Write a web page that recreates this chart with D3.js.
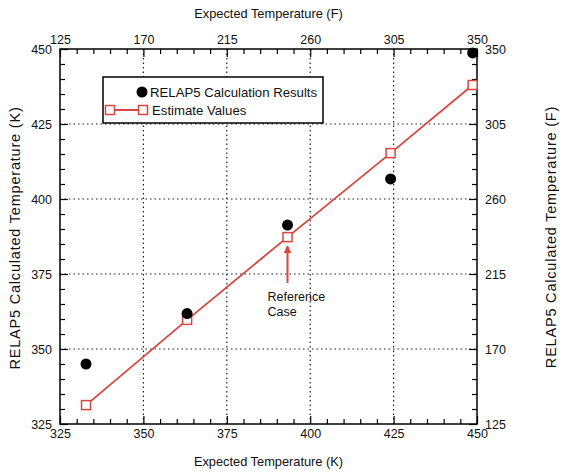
<!DOCTYPE html>
<html>
<head>
<meta charset="utf-8">
<script src="https://cdn.jsdelivr.net/npm/d3@7"></script>
<style>
  html, body { margin: 0; padding: 0; background: #fff; }
  svg { display: block; font-family: "Liberation Sans", Arial, sans-serif; }
  .axis path { display: none; }
  .axis line { stroke: #000; stroke-width: 1.2; }
  .axis text { font-size: 12.5px; fill: #111; }
</style>
</head>
<body>
<svg id="chart" width="564" height="472"></svg>
<script>
// Expected temperature (K) for each case
const expectedK = [332.8, 363.1, 393.2, 424.1, 448.7];
// RELAP5 calculated temperatures (K)
const relap5K = [345.0, 361.8, 391.3, 406.7, 448.7];
// Estimated temperatures (K)
const estimateK = [331.3, 359.7, 387.3, 415.3, 438.0];

// Axis ticks
const kTicks = [325, 350, 375, 400, 425, 450];
const fTicks = [125, 170, 215, 260, 305, 350];
const kMinor = d3.range(325, 451, 5).filter(v => v % 25 !== 0);
const fMinor = d3.range(125, 351, 9).filter(v => (v - 125) % 45 !== 0);

const referenceIndex = 2;

const svg = d3.select("#chart");
const plotL = 60, plotR = 477, plotT = 49, plotB = 424;

const x = d3.scaleLinear().domain([325, 450]).range([plotL, plotR]);
const y = d3.scaleLinear().domain([325, 450]).range([plotB, plotT]);
const xF = d3.scaleLinear().domain([125, 350]).range([plotL, plotR]);
const yF = d3.scaleLinear().domain([125, 350]).range([plotB, plotT]);

const red = "#d9463f";

// Dotted grid at inner major ticks
const grid = svg.append("g").attr("stroke", "#222").attr("stroke-width", 1.2)
  .attr("stroke-dasharray", "1.5,3");
kTicks.slice(1, -1).forEach(v => {
  grid.append("line").attr("x1", x(v)).attr("x2", x(v)).attr("y1", plotT).attr("y2", plotB);
  grid.append("line").attr("x1", plotL).attr("x2", plotR).attr("y1", y(v)).attr("y2", y(v));
});

// Axes: major ticks with labels, minor ticks without, all pointing inward
function addAxis(axisFn, scale, major, minor, transform, pad) {
  svg.append("g").attr("class", "axis").attr("transform", transform)
    .call(axisFn(scale).tickValues(major).tickSize(-8).tickPadding(pad).tickFormat(d3.format("d")));
  svg.append("g").attr("class", "axis").attr("transform", transform)
    .call(axisFn(scale).tickValues(minor).tickSize(-5).tickFormat(""));
}
addAxis(d3.axisBottom, x, kTicks, kMinor, `translate(0,${plotB})`, 5);
addAxis(d3.axisLeft, y, kTicks, kMinor, `translate(${plotL},0)`, 8);
addAxis(d3.axisTop, xF, fTicks, fMinor, `translate(0,${plotT})`, 5);
addAxis(d3.axisRight, yF, fTicks, fMinor, `translate(${plotR},0)`, 8);

// Frame
svg.append("rect").attr("x", plotL).attr("y", plotT)
  .attr("width", plotR - plotL).attr("height", plotB - plotT)
  .attr("fill", "none").attr("stroke", "#000").attr("stroke-width", 1.5);

// Axis titles
const title = (t, tx, ty, rot, fs, ls) => svg.append("text")
  .attr("transform", `translate(${tx},${ty}) rotate(${rot})`)
  .attr("text-anchor", "middle").attr("font-size", fs).attr("letter-spacing", ls)
  .attr("fill", "#111").text(t);
title("Expected Temperature (F)", (plotL + plotR) / 2, 18, 0, 12.8, 0);
title("Expected Temperature (K)", (plotL + plotR) / 2, 466, 0, 12.8, 0);
title("RELAP5 Calculated Temperature (K)", 20, 238, -90, 14.5, 0.8);
title("RELAP5 Calculated Temperature (F)", 556, 237, -90, 14.5, 0.8);

// Estimate line and markers
const pts = expectedK.map((k, i) => [x(k), y(estimateK[i])]);
svg.append("path").attr("d", d3.line()(pts))
  .attr("fill", "none").attr("stroke", red).attr("stroke-width", 1.8);
svg.selectAll(".sq").data(expectedK).join("rect")
  .attr("x", (d, i) => x(d) - 4.5).attr("y", (d, i) => y(estimateK[i]) - 4.5)
  .attr("width", 9).attr("height", 9)
  .attr("fill", "#fff").attr("stroke", red).attr("stroke-width", 1.5);

// RELAP5 results
svg.selectAll(".dot").data(expectedK).join("circle")
  .attr("cx", d => x(d)).attr("cy", (d, i) => y(relap5K[i])).attr("r", 5.5)
  .attr("fill", "#000");

// Reference case annotation
const rx = x(expectedK[referenceIndex]);
const ry = y(estimateK[referenceIndex]);
svg.append("defs").append("marker").attr("id", "head")
  .attr("viewBox", "0 0 10 10").attr("refX", 9).attr("refY", 5)
  .attr("markerWidth", 4).attr("markerHeight", 5).attr("orient", "auto")
  .attr("markerUnits", "strokeWidth")
  .append("path").attr("d", "M0,0L10,5L0,10Z").attr("fill", red);
svg.append("line").attr("x1", rx).attr("x2", rx).attr("y1", 283).attr("y2", ry + 9)
  .attr("stroke", red).attr("stroke-width", 2).attr("marker-end", "url(#head)");
svg.append("text").attr("x", rx - 20).attr("y", 301).attr("font-size", 12.5)
  .attr("fill", "#111").text("Reference");
svg.append("text").attr("x", rx - 20).attr("y", 316).attr("font-size", 12.5)
  .attr("fill", "#111").text("Case");

// Legend
const lg = svg.append("g");
lg.append("rect").attr("x", 103).attr("y", 77).attr("width", 220).attr("height", 46)
  .attr("fill", "#fff").attr("stroke", "#000").attr("stroke-width", 1.5);
lg.append("circle").attr("cx", 142).attr("cy", 92).attr("r", 5.5).attr("fill", "#000");
lg.append("text").attr("x", 150).attr("y", 97).attr("font-size", 13.2).attr("fill", "#111")
  .text("RELAP5 Calculation Results");
lg.append("line").attr("x1", 110).attr("x2", 143).attr("y1", 110).attr("y2", 110)
  .attr("stroke", red).attr("stroke-width", 1.8);
[110, 143].forEach(cx => lg.append("rect").attr("x", cx - 4.5).attr("y", 105.5)
  .attr("width", 9).attr("height", 9).attr("fill", "#fff").attr("stroke", red).attr("stroke-width", 1.5));
lg.append("text").attr("x", 152).attr("y", 115).attr("font-size", 13.2).attr("fill", "#111")
  .text("Estimate Values");
</script>
</body>
</html>
